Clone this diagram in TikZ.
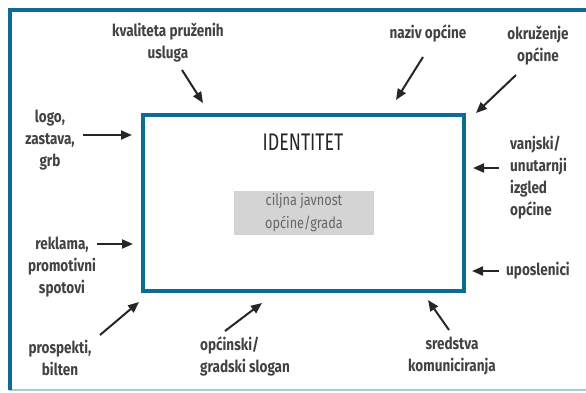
\documentclass[tikz,border=0pt]{standalone}
\usepackage{fontspec}
\setmainfont{Fira Sans}[FakeStretch=0.74]
\newfontfamily\lblfont{Fira Sans}[FakeStretch=0.82]
\usepackage{tikz}
\usetikzlibrary{arrows.meta,positioning}
\definecolor{idBlue}{RGB}{14,108,148}
\definecolor{idLight}{RGB}{165,203,218}
\definecolor{idText}{RGB}{66,66,66}
\definecolor{idGray}{RGB}{212,212,212}

\begin{document}
\begin{tikzpicture}[
			x=1pt,y=-1pt,
			>={Triangle[length=11pt,width=9pt]},
			lbl/.style={
				text=idText,
				align=center,
				inner sep=1pt,
				font=\lblfont\fontsize{16.5}{22}\selectfont\bfseries
			},
			arr/.style={
				->,
				draw=black!85,
				line width=2pt
			},
			core/.style={
				draw=idBlue,
				line width=3.5pt
			},
			tgt/.style={
				fill=idGray,
				text=black!60,
				align=center,
				minimum width=140pt,
				minimum height=44pt,
				inner sep=0pt,
				font=\lblfont\fontsize{15.5}{23}\selectfont
			}
			]
			\useasboundingbox (0,0) rectangle (586,392);
			% outer frame (open on the right)
			\draw[idLight,line width=1.5pt] (9,390) -- (586,390);
			\draw[idBlue,line width=4pt] (586,10) -- (10,10) -- (10,390);
			% central box
			\draw[core] (143,115) rectangle (464,291);
			\node[text=black!85,font=\fontsize{24}{28}\selectfont](id) at (303,142){IDENTITET};
			\node[tgt](cj) at (304,213){ciljna javnost\\općine/grada};
			% labels
			\node[lbl](kval) at (168,43){kvaliteta pruženih\\usluga};
			\node[lbl](logo) at (50,140){logo,\\zastava,\\grb};
			\node[lbl](naziv) at (428,33){naziv općine};
			\node[lbl](okr) at (538,46){okruženje\\općine};
			\node[lbl,align=left,anchor=west](izg) at (509,178){vanjski/\\unutarnji\\izgled\\općine};
			\node[lbl,anchor=west](upo) at (505,271){uposlenici};
			\node[lbl](rek) at (62,267){reklama,\\promotivni\\spotovi};
			\node[lbl](pro) at (60,358){prospekti,\\bilten};
			\node[lbl,align=left,anchor=west](slo) at (199,356){općinski/\\gradski slogan};
			\node[lbl](sre) at (452,356){sredstva\\komuniciranja};
			% arrow ends
			\coordinate (kvalA) at (182,70);   \coordinate (kvalB) at (203,103);
			\coordinate (logoA) at (83,135);   \coordinate (logoB) at (132,135);
			\coordinate (nazA) at (423,57);    \coordinate (nazB) at (396,100);
			\coordinate (okrA) at (516,75);    \coordinate (okrB) at (476,113);
			\coordinate (izgA) at (499,168);   \coordinate (izgB) at (473,168);
			\coordinate (upoA) at (499,271);   \coordinate (upoB) at (472,271);
			\coordinate (rekA) at (97,244);    \coordinate (rekB) at (133,244);
			\coordinate (proA) at (100,335);   \coordinate (proB) at (139,302);
			\coordinate (sloA) at (225,331);   \coordinate (sloB) at (262,303);
			\coordinate (sreA) at (449,330);   \coordinate (sreB) at (428,300);
			\draw[arr](kvalA)--(kvalB);
			\draw[arr](logoA)--(logoB);
			\draw[arr](nazA)--(nazB);
			\draw[arr](okrA)--(okrB);
			\draw[arr](izgA)--(izgB);
			\draw[arr](upoA)--(upoB);
			\draw[arr](rekA)--(rekB);
			\draw[arr](proA)--(proB);
			\draw[arr](sloA)--(sloB);
			\draw[arr](sreA)--(sreB);
		\end{tikzpicture}
\end{document}
